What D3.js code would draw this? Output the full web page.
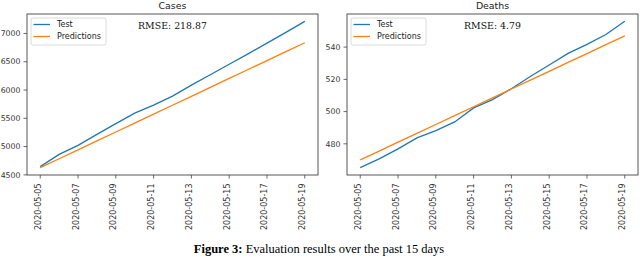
<!DOCTYPE html>
<html>
<head>
<meta charset="utf-8">
<script src="https://cdn.jsdelivr.net/npm/d3@7.9.0/dist/d3.min.js"></script>
<style>
  body { margin: 0; background: #fff; }
  svg { display: block; }
  .tick-label { font-family: "DejaVu Sans", sans-serif; font-size: 7.8px; fill: #333; }
  .x-label { font-size: 8px; }
</style>
</head>
<body>
<svg id="chart" width="640" height="257"></svg>
<script>
// dates shown on the x axis (one point per day)
const dates = [
  '2020-05-05', '2020-05-06', '2020-05-07', '2020-05-08', '2020-05-09',
  '2020-05-10', '2020-05-11', '2020-05-12', '2020-05-13', '2020-05-14',
  '2020-05-15', '2020-05-16', '2020-05-17', '2020-05-18', '2020-05-19'
];
const dateTicks = ['2020-05-05', '2020-05-07', '2020-05-09', '2020-05-11',
  '2020-05-13', '2020-05-15', '2020-05-17', '2020-05-19'];

// cases
const casesTest = [4645, 4862, 5021, 5216, 5405, 5592, 5733, 5892, 6087, 6270, 6455, 6640, 6830, 7020, 7215];
const casesPred = [4627, 4785, 4943, 5100, 5258, 5416, 5574, 5731, 5889, 6047, 6205, 6363, 6520, 6678, 6836];
const casesTicks = [4500, 5000, 5500, 6000, 6500, 7000];

// deaths
const deathsTest = [465.2, 470.7, 476.9, 483.7, 488.2, 493.6, 502.3, 507.4, 514.2, 521.8, 528.9, 536.1, 541.7, 547.8, 556.0];
const deathsPred = [470.0, 475.5, 481.0, 486.5, 492.0, 497.5, 503.0, 508.5, 514.0, 519.5, 525.0, 530.5, 536.0, 541.5, 547.0];
const deathsTicks = [480, 500, 520, 540];

const panels = [
  { title: 'Cases', rmse: 'RMSE: 218.87', test: casesTest, pred: casesPred, ticks: casesTicks, left: 27 },
  { title: 'Deaths', rmse: 'RMSE: 4.79', test: deathsTest, pred: deathsPred, ticks: deathsTicks, left: 347 }
];

const svg = d3.select('#chart');
const parse = d3.utcParse('%Y-%m-%d');
const W = 291, plotTop = 14, H = 161;
const blue = '#1f77b4', orange = '#ff7f0e';

panels.forEach(p => {
  const g = svg.append('g').attr('transform', `translate(${p.left},${plotTop})`);

  // x domain with matplotlib-like 5% margins
  const d0 = parse(dates[0]), d1 = parse(dates[dates.length - 1]);
  const pad = (d1 - d0) * 0.05;
  const x = d3.scaleUtc().domain([new Date(+d0 - pad), new Date(+d1 + pad)]).range([0, W]);

  const all = p.test.concat(p.pred);
  const lo = d3.min(all), hi = d3.max(all), m = (hi - lo) * 0.05;
  const y = d3.scaleLinear().domain([lo - m, hi + m]).range([H, 0]);

  const line = d3.line().x((d, i) => x(parse(dates[i]))).y(d => y(d));

  g.append('path').datum(p.test).attr('d', line)
    .attr('fill', 'none').attr('stroke', blue).attr('stroke-width', 1.3);
  g.append('path').datum(p.pred).attr('d', line)
    .attr('fill', 'none').attr('stroke', orange).attr('stroke-width', 1.3);

  // y axis ticks
  p.ticks.forEach(t => {
    g.append('line').attr('x1', -3.5).attr('x2', 0).attr('y1', y(t)).attr('y2', y(t))
      .attr('stroke', '#444').attr('stroke-width', 0.8);
    g.append('text').attr('class', 'tick-label')
      .attr('x', -6.5).attr('y', y(t)).attr('dy', '0.35em')
      .attr('text-anchor', 'end').text(t);
  });

  // x axis ticks, rotated labels
  dateTicks.forEach(t => {
    const xx = x(parse(t));
    g.append('line').attr('x1', xx).attr('x2', xx).attr('y1', H).attr('y2', H + 3.5)
      .attr('stroke', '#444').attr('stroke-width', 0.8);
    g.append('text').attr('class', 'tick-label x-label')
      .attr('transform', `translate(${xx + 0.5},${H + 8.5}) rotate(-90)`)
      .attr('text-anchor', 'end').text(t);
  });

  // frame
  g.append('rect').attr('width', W).attr('height', H)
    .attr('fill', 'none').attr('stroke', '#444').attr('stroke-width', 0.9);

  // title
  g.append('text').attr('x', W / 2).attr('y', -5)
    .attr('text-anchor', 'middle')
    .style('font-family', '"DejaVu Sans", sans-serif').style('font-size', '9.4px').style('fill', '#222')
    .text(p.title);

  // rmse annotation
  g.append('text').attr('x', W / 2).attr('y', 15)
    .attr('text-anchor', 'middle')
    .style('font-family', '"DejaVu Serif", serif').style('font-size', '9.4px').style('fill', '#111')
    .text(p.rmse);

  // legend
  const lg = g.append('g').attr('transform', 'translate(4,4)');
  lg.append('rect').attr('width', 75).attr('height', 27).attr('rx', 2)
    .attr('fill', 'rgba(255,255,255,0.8)').attr('stroke', '#d0d0d0').attr('stroke-width', 0.8);
  [['Test', blue], ['Predictions', orange]].forEach(([label, c], i) => {
    const yy = 6.5 + i * 12;
    lg.append('line').attr('x1', 2.5).attr('x2', 19).attr('y1', yy).attr('y2', yy)
      .attr('stroke', c).attr('stroke-width', 1.3);
    lg.append('text').attr('x', 26).attr('y', yy).attr('dy', '0.35em')
      .style('font-family', '"DejaVu Sans", sans-serif').style('font-size', '8px').style('fill', '#222')
      .text(label);
  });
});

// caption
const cap = svg.append('text').attr('x', 319).attr('y', 253).attr('text-anchor', 'middle')
  .style('font-family', '"Liberation Serif", "Times New Roman", serif').style('font-size', '12.5px').style('fill', '#000');
cap.append('tspan').style('font-weight', 'bold').text('Figure 3:');
cap.append('tspan').text(' Evaluation results over the past 15 days');
</script>
</body>
</html>
